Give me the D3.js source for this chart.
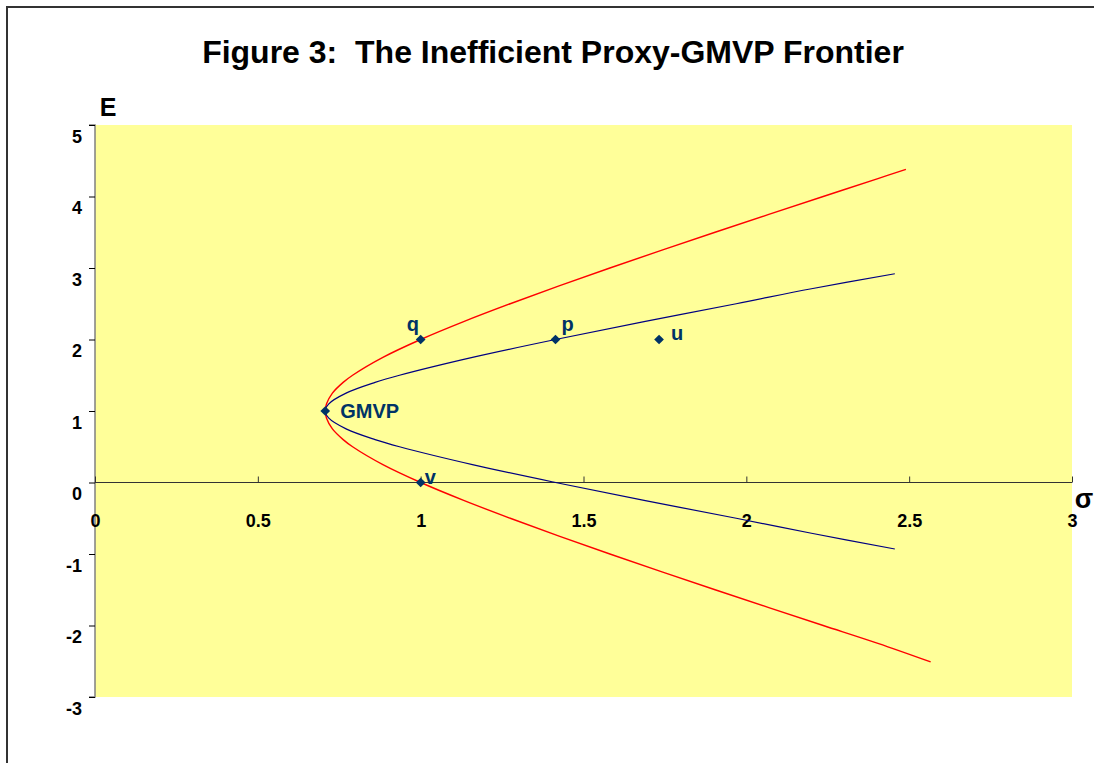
<!DOCTYPE html>
<html>
<head>
<meta charset="utf-8">
<script src="https://cdn.jsdelivr.net/npm/d3@7"></script>
<style>
  html, body { margin: 0; padding: 0; background: #fff; }
  svg { display: block; }
  text { font-family: Arial, "Liberation Sans", sans-serif; }
</style>
</head>
<body>
<svg id="chart" width="1094" height="763"></svg>
<script>
// ---- data ----
const title = "Figure 3:  The Inefficient Proxy-GMVP Frontier";
const xTicks = [0, 0.5, 1, 1.5, 2, 2.5, 3];
const yTicks = [5, 4, 3, 2, 1, 0, -1, -2, -3];
// Red frontier (sigma, E)
const redSigma = [2.49, 2.404, 2.236, 2.069, 1.904, 1.741, 1.581, 1.425, 1.275, 1.132, 1.0, 0.884, 0.791, 0.762, 0.729, 0.711, 0.707, 0.711, 0.729, 0.762, 0.791, 0.884, 1.0, 1.132, 1.275, 1.425, 1.581, 1.741, 1.904, 2.069, 2.236, 2.404, 2.566];
const redE     = [4.38, 4.25, 4.0, 3.75, 3.5, 3.25, 3.0, 2.75, 2.5, 2.25, 2.0, 1.75, 1.5, 1.4, 1.25, 1.1, 1.0, 0.9, 0.75, 0.6, 0.5, 0.25, 0.0, -0.25, -0.5, -0.75, -1.0, -1.25, -1.5, -1.75, -2.0, -2.25, -2.51];
// Blue frontier (sigma, E)
const blueSigma = [2.456, 2.2, 1.969, 1.686, 1.414, 1.159, 0.935, 0.860, 0.771, 0.718, 0.707, 0.718, 0.771, 0.860, 0.935, 1.159, 1.414, 1.686, 1.969, 2.2, 2.456];
const blueE     = [2.92, 2.71, 2.5, 2.25, 2.0, 1.75, 1.5, 1.4, 1.25, 1.1, 1.0, 0.9, 0.75, 0.6, 0.5, 0.25, 0.0, -0.25, -0.5, -0.71, -0.93];
// Labelled portfolios
const pointNames = ["GMVP", "q", "p", "u", "v"];
const pointSigma = [0.707, 1.0, 1.414, 1.732, 1.0];
const pointE     = [1.0, 2.0, 2.0, 2.0, 0.0];

// ---- layout ----
const svg = d3.select("#chart");
const plot = { left: 95, right: 1072, top: 125, bottom: 697 };
const x = d3.scaleLinear().domain([0, 3]).range([plot.left, plot.right]);
const y = d3.scaleLinear().domain([-3, 5]).range([plot.bottom, plot.top]);
const fmt = d => String(d);

// outer frame
svg.append("rect").attr("x", 7).attr("y", 7).attr("width", 1200).attr("height", 900)
  .attr("fill", "#fff").attr("stroke", "#333").attr("stroke-width", 2);

// title
svg.append("text").attr("x", 553).attr("y", 63).attr("text-anchor", "middle")
  .style("white-space", "pre")
  .attr("font-size", 32).attr("font-weight", "bold").attr("fill", "#000").text(title);

// plot area
svg.append("rect").attr("x", plot.left).attr("y", plot.top)
  .attr("width", plot.right - plot.left).attr("height", plot.bottom - plot.top)
  .attr("fill", "#FFFF99");

// y axis
const yAxis = d3.axisLeft(y).tickValues(yTicks).tickSize(6).tickFormat(fmt);
const gy = svg.append("g").attr("transform", `translate(${plot.left},0)`).call(yAxis);
gy.select(".domain").attr("stroke", "#808080").attr("stroke-width", 1.5).attr("d", `M-6,${plot.top}H0V${plot.bottom}H-6`);
gy.selectAll(".tick line").attr("stroke", "#000");
gy.selectAll(".tick text").style("font-size", "18px").style("font-weight", "bold").attr("fill", "#000")
  .attr("x", -13).attr("y", 11).attr("dy", "0.35em");

// x axis at E = 0
const xAxis = d3.axisTop(x).tickValues(xTicks).tickSize(6).tickFormat(fmt);
const gx = svg.append("g").attr("transform", `translate(0,${y(0)})`).call(xAxis);
gx.select(".domain").attr("stroke", "#333").attr("stroke-width", 1.2).attr("d", `M${plot.left},0H${plot.right}`);
gx.selectAll(".tick line").attr("stroke", "#333");
gx.selectAll(".tick text").style("font-size", "18px").style("font-weight", "bold").attr("fill", "#000")
  .attr("y", 44).attr("dy", 0);
gy.attr("font-family", null); gx.attr("font-family", null);

// axis titles
svg.append("text").attr("x", 108).attr("y", 116).attr("text-anchor", "middle")
  .attr("font-size", 25).attr("font-weight", "bold").attr("fill", "#000").text("E");
svg.append("text").attr("x", 1084).attr("y", 508).attr("text-anchor", "middle")
  .attr("font-size", 27).attr("font-weight", "bold").attr("fill", "#000").text("σ");

// curves
const line = d3.line().x(d => x(d[0])).y(d => y(d[1])).curve(d3.curveCatmullRom.alpha(0.5));
const redPts = redSigma.map((s, i) => [s, redE[i]]);
const bluePts = blueSigma.map((s, i) => [s, blueE[i]]);
svg.append("path").attr("d", line(redPts)).attr("fill", "none").attr("stroke", "#FF0000").attr("stroke-width", 1.4);
svg.append("path").attr("d", line(bluePts)).attr("fill", "none").attr("stroke", "#000080").attr("stroke-width", 1.2);

// points
const navy = "#003366";
const sym = d3.symbol().type(d3.symbolDiamond2).size(60);
pointNames.forEach((n, i) => {
  svg.append("path").attr("d", sym()).attr("fill", navy)
    .attr("transform", `translate(${x(pointSigma[i])},${y(pointE[i])})`);
});
// labels (offsets in pixels from each marker)
const labelDx = [15, -14, 6, 12, 4];
const labelDy = [7, -9, -9, 0, 1];
pointNames.forEach((n, i) => {
  svg.append("text").attr("x", x(pointSigma[i]) + labelDx[i]).attr("y", y(pointE[i]) + labelDy[i])
    .attr("font-size", 20).attr("font-weight", "bold").attr("fill", navy).text(n);
});
</script>
</body>
</html>
